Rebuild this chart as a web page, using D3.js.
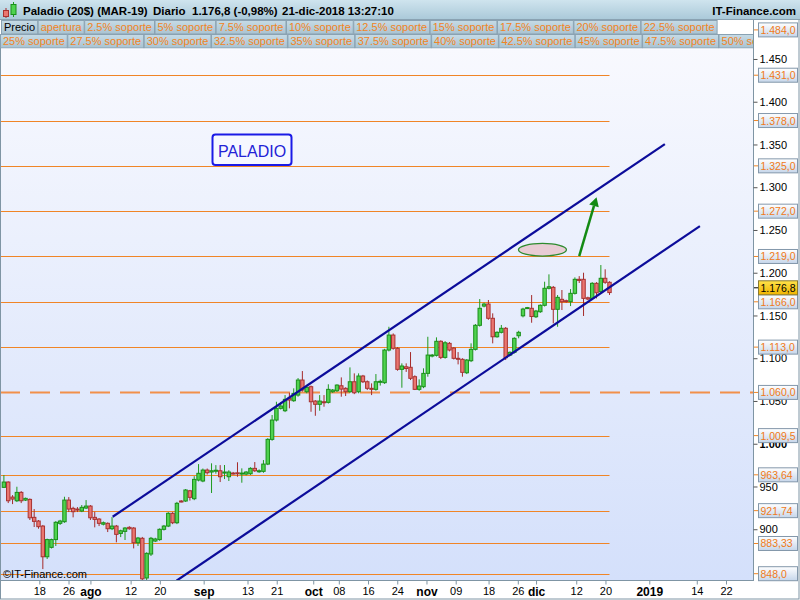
<!DOCTYPE html>
<html><head><meta charset="utf-8">
<script src="https://cdn.jsdelivr.net/npm/d3@7"></script>
<style>
html,body{margin:0;padding:0;background:#fff;}
svg{display:block;font-family:"Liberation Sans",Arial,sans-serif;}
</style></head><body>
<svg id="c" width="800" height="600"></svg>
<script>
// ---------------- DATA ----------------
const opens = [949.0,955.2,937.6,933.3,943.1,934.1,934.9,913.9,909.6,903.7,867.8,878.8,887.9,906.9,908.8,934.1,924.4,923.6,921.3,924.8,
927.1,913.9,911.9,905.9,906.9,900.6,903.7,895.1,897.5,902.2,901.4,884.2,889.4,843.0,871.0,886.2,887.9,899.9,903.7,918.6,
907.6,933.0,933.0,945.0,935.7,957.5,956.4,969.2,966.9,968.0,968.4,965.7,961.4,965.7,966.0,964.5,964.5,964.9,971.2,967.2,
967.7,976.2,1005.1,1027.7,1041.4,1038.6,1053.1,1050.3,1056.9,1074.5,1060.8,1066.7,1049.9,1046.1,1049.1,1048.4,1060.8,1062.0,1067.8,1064.8,
1060.8,1072.5,1060.8,1079.2,1072.5,1064.8,1063.6,1072.0,1071.4,1109.6,1127.1,1111.6,1087.0,1090.0,1089.4,1078.4,1063.6,1066.7,1082.3,1102.6,
1103.4,1119.8,1101.0,1117.4,1111.9,1099.9,1098.7,1083.0,1097.1,1110.4,1138.5,1161.0,1163.4,1146.7,1125.1,1130.3,1135.0,1103.7,1106.9,1126.3,
1149.6,1158.4,1158.4,1148.5,1154.4,1161.9,1181.8,1182.9,1157.2,1168.9,1167.3,1166.1,1175.9,1192.3,1192.3,1170.7,1170.0,1187.6,1177.8,1193.5,
1188.8];
const highs = [963.4,956.0,939.9,949.7,944.6,937.0,936.0,923.6,910.8,905.0,889.0,889.0,909.5,911.0,938.0,937.6,926.3,925.9,928.3,934.1,
928.3,920.5,913.0,909.0,908.0,914.2,905.0,899.5,902.5,903.5,902.5,891.0,891.0,873.0,891.0,890.0,901.0,905.0,920.0,920.0,
932.0,934.0,947.0,946.0,962.0,976.2,971.0,971.0,977.1,975.0,975.0,975.1,969.0,967.0,978.3,971.2,968.0,972.5,978.6,970.0,
980.9,1006.5,1033.6,1049.1,1048.7,1056.9,1059.6,1064.8,1076.8,1085.0,1067.5,1068.0,1051.0,1056.9,1056.9,1069.5,1064.0,1069.5,1077.6,1066.0,
1089.3,1082.3,1082.3,1080.5,1074.0,1070.6,1081.5,1075.0,1111.0,1136.8,1129.0,1113.0,1094.0,1094.0,1107.2,1080.0,1075.3,1088.2,1125.1,1105.0,
1124.4,1121.0,1120.0,1119.0,1113.0,1107.2,1100.0,1099.0,1117.4,1140.0,1169.2,1165.0,1168.1,1152.5,1131.5,1138.9,1136.5,1108.0,1124.5,1132.1,
1159.0,1160.0,1173.9,1156.5,1163.0,1189.5,1198.1,1184.5,1173.9,1179.8,1168.5,1180.9,1194.6,1196.0,1200.0,1172.0,1189.0,1189.0,1209.0,1204.0,
1190.0];
const lows = [948.2,930.6,929.4,931.8,930.6,933.0,910.8,902.6,900.6,853.4,865.2,877.5,880.4,905.0,907.5,920.1,913.9,920.1,920.0,923.6,
910.8,902.2,903.7,904.5,896.7,899.0,884.7,890.8,887.4,899.5,877.6,880.4,835.0,836.0,868.7,885.0,886.5,898.5,902.5,906.0,
906.0,931.5,932.0,933.5,934.0,956.0,955.0,964.0,942.4,965.0,955.2,958.7,956.4,964.0,961.4,954.4,963.0,963.5,967.0,966.0,
966.0,975.0,1003.5,1026.0,1040.0,1037.0,1041.4,1049.0,1055.0,1061.0,1059.0,1037.4,1032.7,1038.6,1043.3,1047.0,1059.5,1060.5,1055.0,1055.8,
1059.5,1058.0,1059.0,1071.0,1062.8,1056.9,1062.0,1068.0,1070.0,1108.0,1110.0,1085.4,1065.5,1084.0,1074.5,1062.8,1062.0,1065.0,1078.4,1101.0,
1102.0,1099.0,1099.5,1108.0,1098.5,1092.8,1078.4,1081.5,1095.5,1109.0,1137.0,1159.5,1145.0,1117.4,1124.0,1129.0,1097.9,1102.5,1105.5,1123.3,
1147.8,1157.5,1141.5,1147.0,1153.0,1160.5,1180.5,1140.8,1136.8,1156.4,1165.0,1161.0,1174.5,1188.0,1149.4,1168.0,1168.5,1170.0,1176.0,1187.0,
1174.0];
const closes = [955.2,933.3,935.3,943.1,933.3,936.1,913.4,909.2,903.0,867.8,887.9,887.9,908.1,909.6,934.1,923.6,920.5,922.4,925.6,927.1,
913.4,911.5,906.9,907.6,900.6,903.7,894.0,898.2,901.4,900.6,884.2,889.7,842.0,871.8,889.4,888.6,899.9,903.7,918.6,907.6,
930.3,932.6,945.9,937.3,958.3,965.4,969.2,966.1,968.4,969.0,961.4,966.9,966.9,965.0,965.0,965.7,966.9,971.2,968.4,968.4,
976.2,1005.1,1027.7,1041.4,1044.1,1051.9,1051.1,1058.9,1074.5,1062.8,1066.0,1049.1,1046.1,1049.9,1048.4,1063.6,1062.8,1068.6,1063.9,1060.8,
1072.5,1059.6,1079.2,1072.5,1064.8,1063.6,1072.5,1073.0,1109.6,1127.1,1111.6,1087.0,1090.9,1088.0,1076.5,1063.6,1067.5,1082.3,1103.7,1103.7,
1119.8,1101.0,1118.1,1109.6,1099.9,1099.4,1083.5,1097.9,1110.4,1138.5,1158.4,1163.4,1146.7,1125.1,1130.3,1135.0,1100.6,1106.9,1123.3,1130.3,
1157.5,1159.2,1148.8,1155.2,1161.9,1181.8,1183.6,1157.2,1171.2,1166.1,1166.1,1175.9,1192.3,1191.0,1170.0,1169.2,1187.6,1176.6,1193.5,1188.8,
1176.8];

const levels      = [1484, 1431, 1378, 1325, 1272, 1219, 1166, 1113, 1060, 1009.5, 963.64, 921.74, 883.33, 848];
const levelLabels = ["1.484,0","1.431,0","1.378,0","1.325,0","1.272,0","1.219,0","1.166,0","1.113,0","1.060,0","1.009,5","963,64","921,74","883,33","848,0"];
const dashedLevel = 1060;
const hiddenLineLevels = [1484];

const yTickValues = [900, 950, 1000, 1050, 1100, 1150, 1200, 1250, 1300, 1350, 1400, 1450];

const xTickDates  = ["2018-07-18","2018-07-26","2018-08-01","2018-08-12","2018-08-20","2018-09-01","2018-09-13","2018-09-21",
                     "2018-10-01","2018-10-08","2018-10-16","2018-10-24","2018-11-01","2018-11-09","2018-11-18","2018-11-26",
                     "2018-12-01","2018-12-12","2018-12-20","2019-01-01","2019-01-14","2019-01-22"];
const xTickLabels = ["18","26","ago","12","20","sep","13","21","oct","08","16","24","nov","09","18","26","dic","12","20","2019","14","22"];
const xTickBold   = [0,0,1,0,0,1,0,0,1,0,0,0,1,0,0,0,1,0,0,1,0,0];

const legendRow1 = ["Precio","apertura","2.5% soporte","5% soporte","7.5% soporte","10% soporte","12.5% soporte","15% soporte","17.5% soporte","20% soporte","22.5% soporte"];
const legendRow2 = ["25% soporte","27.5% soporte","30% soporte","32.5% soporte","35% soporte","37.5% soporte","40% soporte","42.5% soporte","45% soporte","47.5% soporte","50% soporte"];

const titleParts = ["Paladio (20$) (MAR-19)","Diario","1.176,8 (-0,98%)","21-dic-2018 13:27:10"];
const lastPrice = 1176.8, lastPriceLabel = "1.176,8";

// annotations in data units: [bar index, price]
const channelUpper = [[25.15, 914.6],[152.8, 1350.5]];
const channelLower = [[39.9, 839.8],[160.9, 1254.6]];
const ellipseCenter = [124.5, 1226.9];
const arrowLine = [[133.0, 1219.5],[137.0, 1288.2]];

// ---------------- LAYOUT ----------------
const svg = d3.select("#c");
const plot = {left:0, right:753, top:48, bottom:580.5};
const n = closes.length;
const x = d3.scaleLinear().domain([0, n-1]).range([3.9, 609.5]);
const y = d3.scaleLinear().domain([848, 1484]).range([573.7, 29.9]);
const xt = d3.scaleTime().domain([new Date(2018,6,18), new Date(2019,0,22)]).range([39.3, 726]);
const parse = d3.timeParse("%Y-%m-%d");

const defs = svg.append("defs");
function grad(id, stops){
  const g = defs.append("linearGradient").attr("id",id).attr("x1",0).attr("y1",0).attr("x2",0).attr("y2",1);
  stops.forEach(s=>g.append("stop").attr("offset",s[0]).attr("stop-color",s[1]));
}
grad("bg",[[0,"#f8f9fe"],[1,"#d4e0fb"]]);
grad("hdr",[[0,"#cfe4ee"],[1,"#a9c8d8"]]);
grad("btn",[[0,"#c6dbe6"],[1,"#a9c3d1"]]);
grad("lbl",[[0,"#ffffff"],[1,"#c6d6ea"]]);
grad("gold",[[0,"#ffe24a"],[1,"#f0b400"]]);
defs.append("clipPath").attr("id","clip").append("rect")
  .attr("x",plot.left).attr("y",plot.top).attr("width",plot.right-plot.left).attr("height",plot.bottom-plot.top);

svg.append("rect").attr("width",800).attr("height",600).attr("fill","#fff");
svg.append("rect").attr("x",plot.left).attr("y",plot.top).attr("width",plot.right-plot.left).attr("height",plot.bottom-plot.top).attr("fill","url(#bg)");

const g = svg.append("g").attr("clip-path","url(#clip)");

// support levels
levels.forEach((lv,i)=>{
  if (hiddenLineLevels.includes(lv)) return;
  const yy = Math.round(y(lv))+0.5;
  if (lv === dashedLevel){
    g.append("line").attr("x1",0).attr("x2",plot.right).attr("y1",yy).attr("y2",yy)
      .attr("stroke","#f2904a").attr("stroke-width",2.2).attr("stroke-dasharray","20,10");
  } else {
    g.append("line").attr("x1",0).attr("x2",x(n-1)).attr("y1",yy).attr("y2",yy)
      .attr("stroke","#f08526").attr("stroke-width",1);
  }
});

// candles
const bars = d3.range(n).map(i=>({i,o:opens[i],h:highs[i],l:lows[i],c:closes[i]}));
const cg = g.append("g");
bars.forEach(b=>{
  const up = b.c >= b.o;
  const cx = x(b.i);
  cg.append("line").attr("x1",cx).attr("x2",cx).attr("y1",y(b.h)).attr("y2",y(b.l))
    .attr("stroke", up ? "#1f9a1f" : "#a52a2a").attr("stroke-width",1);
  const top = y(Math.max(b.o,b.c)), bot = y(Math.min(b.o,b.c));
  cg.append("rect").attr("x",cx-1.7).attr("y",top).attr("width",3.4).attr("height",Math.max(bot-top,1))
    .attr("fill", up ? "#4fd24f" : "#ea7670").attr("stroke", up ? "#1a8f1a" : "#a83232").attr("stroke-width",1);
});

// channel
const lineGen = d3.line().x(d=>x(d[0])).y(d=>y(d[1]));
[channelUpper, channelLower].forEach(c=>{
  g.append("path").attr("d",lineGen(c)).attr("fill","none").attr("stroke","#0c0c9a").attr("stroke-width",2.2);
});

// ellipse
g.append("ellipse").attr("cx",x(ellipseCenter[0])).attr("cy",y(ellipseCenter[1])).attr("rx",24).attr("ry",6.3)
  .attr("fill","#e8ccd4").attr("stroke","#2e8b2e").attr("stroke-width",1.3);

// arrow
const a0 = [x(arrowLine[0][0]), y(arrowLine[0][1])], a1 = [x(arrowLine[1][0]), y(arrowLine[1][1])];
const ang = Math.atan2(a1[1]-a0[1], a1[0]-a0[0]);
const hl = 9, hw = 5;
const base = [a1[0]-hl*Math.cos(ang), a1[1]-hl*Math.sin(ang)];
g.append("line").attr("x1",a0[0]).attr("y1",a0[1]).attr("x2",base[0]).attr("y2",base[1])
  .attr("stroke","#138a13").attr("stroke-width",2.5);
g.append("path").attr("d",`M${a1[0]},${a1[1]} L${base[0]+hw*Math.sin(ang)},${base[1]-hw*Math.cos(ang)} L${base[0]-hw*Math.sin(ang)},${base[1]+hw*Math.cos(ang)} Z`)
  .attr("fill","#138a13");

// PALADIO box
g.append("rect").attr("x",212.5).attr("y",134.5).attr("width",79).attr("height",30.5).attr("rx",3)
  .attr("fill","#f6f8ff").attr("stroke","#1a1ae6").attr("stroke-width",2);
g.append("text").attr("x",252).attr("y",157).attr("text-anchor","middle").attr("font-size",16)
  .attr("fill","#2323d6").text("PALADIO");

// copyright
g.append("text").attr("x",3).attr("y",578).attr("font-size",11).attr("fill","#000").text("\u00A9IT-Finance.com");

// ---------------- AXES ----------------
svg.append("line").attr("x1",plot.right+0.5).attr("x2",plot.right+0.5).attr("y1",20).attr("y2",plot.bottom)
  .attr("stroke","#7f95a4").attr("stroke-width",1);
svg.append("line").attr("x1",0).attr("x2",plot.right+1).attr("y1",plot.bottom).attr("y2",plot.bottom)
  .attr("stroke","#7f95a4").attr("stroke-width",1);
// outer frame
svg.append("rect").attr("x",0.5).attr("y",0.5).attr("width",798.5).attr("height",598.5)
  .attr("fill","none").attr("stroke","#7f95a4").attr("stroke-width",1);

// right axis
const yAxis = d3.axisRight(y).tickValues(yTickValues).tickSize(4).tickPadding(2)
  .tickFormat(d=>d3.format(",")(d).replace(/,/g,"."));
const ya = svg.append("g").attr("transform",`translate(${plot.right+0.5},0)`).call(yAxis);
ya.select(".domain").remove();
ya.selectAll(".tick line").attr("stroke","#555");
ya.selectAll(".tick text").attr("font-size",11).attr("font-family","Liberation Sans, Arial, sans-serif")
  .attr("fill","#000").attr("font-weight",d=>d===1000?"bold":"normal");

// bottom axis
const xa = svg.append("g").attr("transform",`translate(0,${plot.bottom})`)
  .call(d3.axisBottom(xt).tickValues(xTickDates.map(parse)).tickSize(4).tickPadding(3)
    .tickFormat((d,i)=>xTickLabels[i]));
xa.select(".domain").remove();
xa.selectAll(".tick line").attr("stroke","#7f95a4");
xa.selectAll(".tick text").attr("font-size",(d,i)=>xTickBold[i]?12:11).attr("font-weight",(d,i)=>xTickBold[i]?"bold":"normal")
  .attr("font-family","Liberation Sans, Arial, sans-serif").attr("fill","#000");

// level labels on right axis
const boxH = 14, bx = plot.right + 5;
function levelLabel(yy, txt, fill, textFill, tickCol, stroke){
  svg.append("line").attr("x1",plot.right+1).attr("x2",bx).attr("y1",yy).attr("y2",yy).attr("stroke",tickCol);
  svg.append("rect").attr("x",bx+0.5).attr("y",yy-boxH/2).attr("width",39).attr("height",boxH)
    .attr("fill",fill).attr("stroke",stroke).attr("stroke-width",1);
  svg.append("text").attr("x",bx+2.5).attr("y",yy+4).attr("font-size",10.5).attr("fill",textFill).text(txt);
}
levels.forEach((lv,i)=>{ if (i>0) levelLabel(y(lv), levelLabels[i], "url(#lbl)", "#f07a18", "#f08526", "#8498ab"); });
// last price label (pushed up to avoid overlap)
let py = y(lastPrice);
levels.forEach(lv=>{ const ly=y(lv); if (Math.abs(ly-py)<boxH && ly>=py) py = ly-boxH; });
levelLabel(py, lastPriceLabel, "url(#gold)", "#000", "#000", "#8a7a30");

// ---------------- HEADER ----------------
svg.append("rect").attr("x",0).attr("y",0).attr("width",800).attr("height",20).attr("fill","url(#hdr)");
svg.append("line").attr("x1",0).attr("x2",800).attr("y1",19.5).attr("y2",19.5).attr("stroke","#8aa2b2");
// icon
svg.append("line").attr("x1",6).attr("x2",6).attr("y1",8).attr("y2",18).attr("stroke","#a52a2a");
svg.append("rect").attr("x",3.5).attr("y",10.5).attr("width",5).attr("height",6).attr("fill","#ea7670").attr("stroke","#a83232");
svg.append("line").attr("x1",13.5).attr("x2",13.5).attr("y1",2).attr("y2",17).attr("stroke","#1f9a1f");
svg.append("rect").attr("x",11).attr("y",4.5).attr("width",5).attr("height",10).attr("fill","#4fd24f").attr("stroke","#1a8f1a");
const titleX = [23, 153, 192, 282];
titleParts.forEach((t,i)=>svg.append("text").attr("x",titleX[i]).attr("y",15).attr("font-size",11.5)
  .attr("font-weight","bold").attr("fill","#000").text(t));
svg.append("text").attr("x",796).attr("y",15).attr("text-anchor","end").attr("font-size",11.5)
  .attr("font-weight","bold").attr("fill","#000").text("IT-Finance.com");

// legend rows
function legendRow(items, y0, h, x0, xmax){
  const row = svg.append("g");
  const clipId = "lc"+y0;
  defs.append("clipPath").attr("id",clipId).append("rect").attr("x",0).attr("y",y0-1).attr("width",xmax).attr("height",h+2);
  row.attr("clip-path",`url(#${clipId})`);
  let cx = x0;
  items.forEach((t,i)=>{
    const tmp = row.append("text").attr("font-size",11).text(t);
    const w = tmp.node().getComputedTextLength() + 5;
    tmp.remove();
    row.append("rect").attr("x",cx+0.5).attr("y",y0+0.5).attr("width",w).attr("height",h)
      .attr("fill","url(#btn)").attr("stroke","#8aa2b2").attr("stroke-width",1);
    row.append("text").attr("x",cx+3).attr("y",y0+h-2.5).attr("font-size",11)
      .attr("fill", t==="Precio" ? "#000" : "#f28424").text(t);
    cx += w + 0.5;
  });
  return cx;
}
svg.append("rect").attr("x",0).attr("y",20).attr("width",753).attr("height",28).attr("fill","#fff");
legendRow(legendRow1, 20, 13.5, 1, 753);
legendRow(legendRow2, 34, 13.5, 0, 753);
// 1.484 label drawn on top of the header strip
levelLabel(y(levels[0]), levelLabels[0], "url(#lbl)", "#f07a18", "#f08526", "#8498ab");
</script>
</body></html>
